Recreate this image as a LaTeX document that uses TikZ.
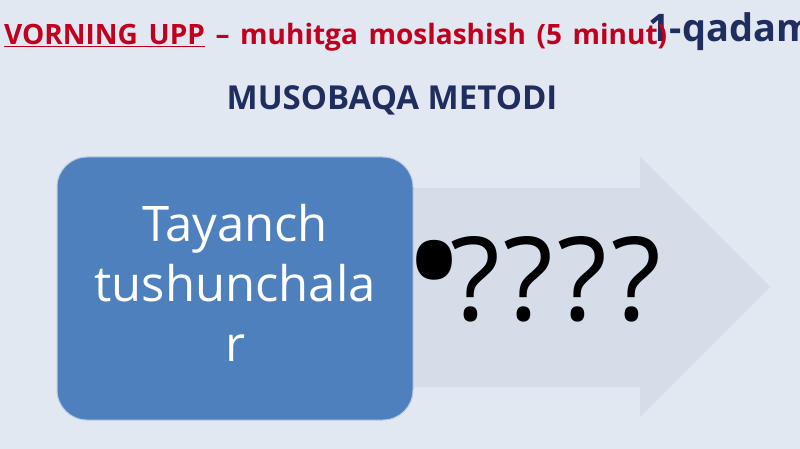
\documentclass[tikz,border=0pt]{standalone}
\usepackage{fontspec}
\setmainfont{Open Sans}
\definecolor{bg}{HTML}{E1E8F1}
\definecolor{arrowc}{HTML}{D5DDE9}
\definecolor{boxblue}{HTML}{4F80BE}
\definecolor{titlered}{HTML}{C0001E}
\definecolor{navy}{HTML}{1F2E5E}
\tikzset{
  bluebox/.style={draw=white!60!boxblue, line width=1pt, fill=boxblue, rounded corners=30pt, inner sep=0pt},
  boxtext/.style={text=white, align=center, font=\fontsize{49}{60}\selectfont, inner sep=0pt},
  titletext/.style={inner sep=0pt, font=\bfseries\fontsize{28}{30}\selectfont, text=titlered},
  navytext/.style={inner sep=0pt, text=navy}
}
\begin{document}
\begin{tikzpicture}[x=1pt,y=-1pt]
\useasboundingbox (0,0) rectangle (800,449);
\clip (0,0) rectangle (800,449);
\fill[bg] (0,0) rectangle (800,449);
\fill[arrowc] (400,188) -- (640,188) -- (640,157) -- (770,287) -- (640,417) -- (640,387) -- (400,387) -- cycle;
\node[bluebox, minimum width=356pt, minimum height=263pt] (box) at (235,288.5) {};
\node[boxtext, yshift=6pt] (boxlabel) at (box.center) {Tayanch\\tushunchala\\r};
\node[inner sep=0pt, anchor=base west, font=\fontsize{116}{120}\selectfont] (q) at (418,320) {{\fontsize{165}{170}\selectfont\makebox[32pt]{•}}?\kern4pt?\kern4pt?\kern4pt?};
\node[navytext, anchor=base west, font=\bfseries\fontsize{38}{40}\selectfont] (step1) at (648,42) {1-qadam};
\node[titletext, anchor=base west] (title) at (4,45) {\spaceskip=0.38em\relax\underline{VORNING UPP} – muhitga moslashish (5 minut)};
\node[navytext, font=\bfseries\fontsize{33}{36}\selectfont] (method) at (392,100) {MUSOBAQA METODI};
\end{tikzpicture}
\end{document}
